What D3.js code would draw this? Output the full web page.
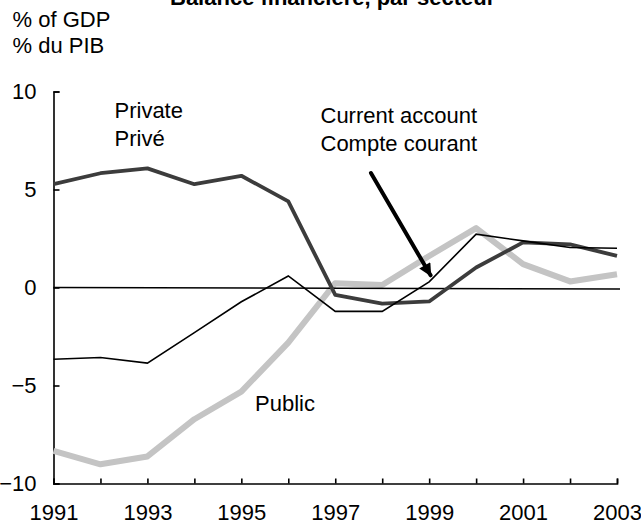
<!DOCTYPE html>
<html>
<head>
<meta charset="utf-8">
<script src="https://cdn.jsdelivr.net/npm/d3@7"></script>
<style>
  html, body { margin: 0; padding: 0; background: #fff; }
  svg { display: block; font-family: Arial, "Liberation Sans", Helvetica, sans-serif; }
</style>
</head>
<body>
<svg id="chart" width="641" height="525"></svg>
<script>
// ---- data ----
const years = [1991, 1992, 1993, 1994, 1995, 1996, 1997, 1998, 1999, 2000, 2001, 2002, 2003];
const privateBalance = [5.27, 5.83, 6.08, 5.27, 5.7, 4.39, -0.38, -0.82, -0.71, 1.02, 2.3, 2.2, 1.61];
const currentAccount = [-3.66, -3.57, -3.86, -2.3, -0.73, 0.59, -1.22, -1.22, 0.29, 2.72, 2.38, 2.04, 2.0];
const publicBalance = [-8.34, -9.02, -8.62, -6.72, -5.31, -2.81, 0.22, 0.13, 1.61, 3.03, 1.19, 0.31, 0.68];
const yTicks = [-10, -5, 0, 5, 10];
const xLabelYears = [1991, 1993, 1995, 1997, 1999, 2001, 2003];
const titleText = "Balance financière, par secteur";
const unitLines = ["% of GDP", "% du PIB"];
const privateLabel = ["Private", "Privé"];
const currentLabel = ["Current account", "Compte courant"];
const publicLabel = ["Public"];
// arrow annotation (in data units): from [year, value] to [year, value]
const arrowFrom = [1997.76, 5.84];
const arrowTo = [1999.03, 0.62];

// ---- setup ----
const svg = d3.select("#chart");
const x = d3.scaleLinear().domain([1991, 2003]).range([53.5, 617]);
const y = d3.scaleLinear().domain([-10, 10]).range([483.5, 91.5]);
const FS = 22;

// title (cut at top, as in the original)
svg.append("text")
  .attr("x", 170).attr("y", 5)
  .attr("font-size", FS).attr("font-weight", "bold")
  .attr("fill", "#000")
  .text(titleText);

// unit lines
unitLines.forEach((t, i) => {
  svg.append("text")
    .attr("x", 12.5).attr("y", 26.7 + i * 26.6)
    .attr("font-size", FS).attr("fill", "#000")
    .text(t);
});

// axes
const yAxis = d3.axisLeft(y).tickValues(yTicks).tickSize(-6).tickPadding(17)
  .tickFormat(d3.format("d"));
const gy = svg.append("g").attr("transform", `translate(${x(1991)},0)`).call(yAxis);
gy.select(".domain").attr("stroke", "#000").attr("stroke-width", 1.6);
gy.selectAll(".tick line").attr("stroke", "#000").attr("stroke-width", 1.6);
gy.selectAll(".tick text").attr("font-size", FS).attr("font-family", null).attr("fill", "#000");

const xAxis = d3.axisBottom(x).tickValues(years).tickSize(-5).tickPadding(21)
  .tickFormat(d => xLabelYears.includes(d) ? String(d) : "");
const gx = svg.append("g").attr("transform", `translate(0,${y(-10)})`).call(xAxis);
gx.select(".domain").attr("stroke", "#000").attr("stroke-width", 1.6);
gx.selectAll(".tick line").attr("stroke", "#000").attr("stroke-width", 1.6);
gx.selectAll(".tick text").attr("font-size", FS).attr("font-family", null).attr("fill", "#000");

// lines
const line = d3.line().x((d, i) => x(years[i])).y(d => y(d));

svg.append("path").datum(publicBalance)
  .attr("d", line).attr("fill", "none")
  .attr("stroke", "#c4c4c4").attr("stroke-width", 6).attr("stroke-linejoin", "round");

// zero line
svg.append("line")
  .attr("x1", x(1991)).attr("x2", x(2003) + 3)
  .attr("y1", y(0)).attr("y2", y(0) + 1.5)
  .attr("stroke", "#000").attr("stroke-width", 1.6);

svg.append("path").datum(privateBalance)
  .attr("d", line).attr("fill", "none")
  .attr("stroke", "#3c3c3c").attr("stroke-width", 3.8).attr("stroke-linejoin", "round");

svg.append("path").datum(currentAccount)
  .attr("d", line).attr("fill", "none")
  .attr("stroke", "#000").attr("stroke-width", 1.6).attr("stroke-linejoin", "miter");

// arrow
const defs = svg.append("defs");
defs.append("marker")
  .attr("id", "ah").attr("viewBox", "0 0 10 10")
  .attr("refX", 9).attr("refY", 5)
  .attr("markerWidth", 3.6).attr("markerHeight", 3.2)
  .attr("markerUnits", "strokeWidth")
  .attr("orient", "auto")
  .append("path").attr("d", "M0,0 L10,5 L0,10 Z").attr("fill", "#000");

svg.append("line")
  .attr("x1", x(arrowFrom[0])).attr("y1", y(arrowFrom[1]))
  .attr("x2", x(arrowTo[0])).attr("y2", y(arrowTo[1]))
  .attr("stroke", "#000").attr("stroke-width", 4)
  .attr("stroke-linecap", "round")
  .attr("marker-end", "url(#ah)");

// series labels
function label(lines, lx, ly) {
  lines.forEach((t, i) => {
    svg.append("text")
      .attr("x", lx).attr("y", ly + i * 28)
      .attr("font-size", FS).attr("fill", "#000")
      .text(t);
  });
}
label(privateLabel, 114.5, 117.5);
label(currentLabel, 320.5, 122.7);
label(publicLabel, 255, 410.7);
</script>
</body>
</html>
